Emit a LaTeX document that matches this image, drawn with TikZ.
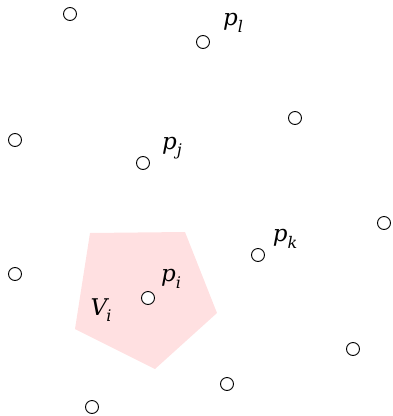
\documentclass[tikz,border=0pt]{standalone}
\usepackage{fontspec}
\setmainfont{DejaVu Serif}
\usepackage{tikz}
\definecolor{cellpink}{RGB}{255,224,225}
\newcommand{\sitelab}[3][0em]{\textit{#2}\kern#1\raisebox{-0.28em}{\fontsize{16}{18}\selectfont\textit{#3}}}
\begin{document}
\begin{tikzpicture}[x=1pt,y=-1pt,
  site/.style={circle,draw=black,line width=0.9pt,fill=white,minimum size=13pt,inner sep=0pt},
  lab/.style={inner sep=0pt,font=\fontsize{23}{26}\selectfont}]
\useasboundingbox (0,0) rectangle (393,416);
\fill[cellpink] (90,233) -- (185,232) -- (217,313) -- (155,369) -- (75,329) -- cycle;
\node[site] (s1) at (70,14) {};
\node[site] (pl) at (203,42) {};
\node[site] (s3) at (295,118) {};
\node[site] (s4) at (15,140) {};
\node[site] (pj) at (143,163) {};
\node[site] (s6) at (384,223) {};
\node[site] (pk) at (258,255) {};
\node[site] (s8) at (15,274) {};
\node[site] (pi) at (148,298) {};
\node[site] (s10) at (353,349) {};
\node[site] (s11) at (227,384) {};
\node[site] (s12) at (92,407) {};
\node[lab] (lpl) at (233,23) {\sitelab{p}{l}};
\node[lab] (lpj) at (172,148) {\sitelab{p}{j}};
\node[lab] (lpk) at (285,239) {\sitelab{p}{k}};
\node[lab] (lpi) at (171,279) {\sitelab{p}{i}};
\node[lab] (lvi) at (101,310) {\sitelab[-0.12em]{V}{i}};
\end{tikzpicture}
\end{document}
